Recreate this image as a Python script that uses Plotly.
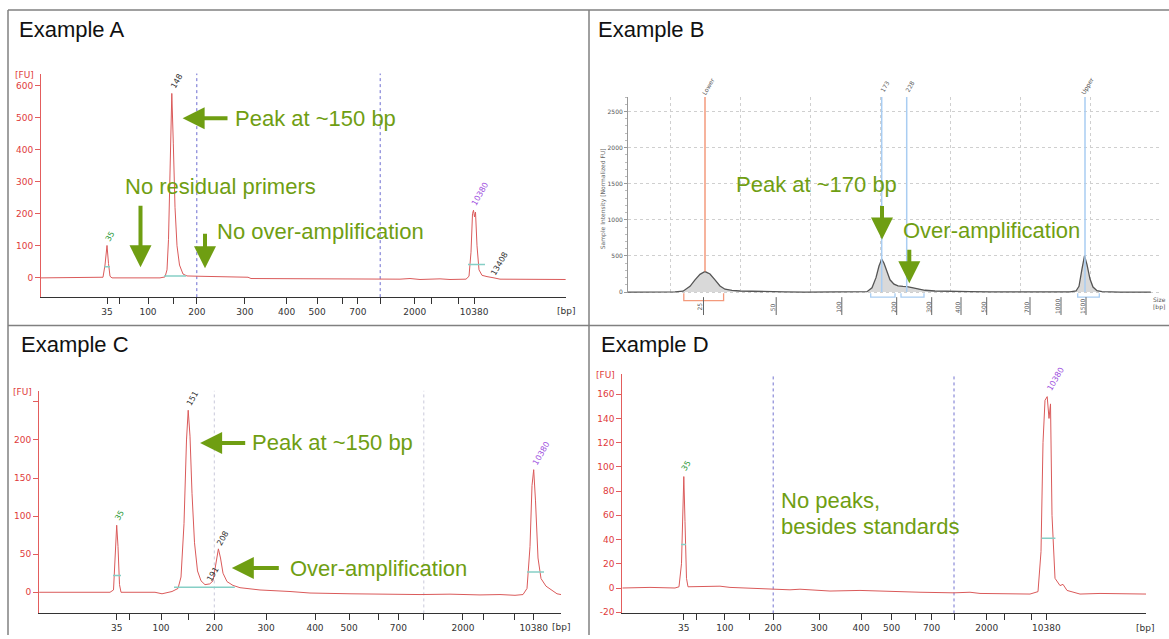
import plotly.graph_objects as go

W, H = 1169, 639
FONT = "Liberation Sans"
TFONT = "DejaVu Sans"
GREEN = "#6F9E12"
RED_AX = "#E35D5D"
RED_TXT = "#E03A3A"
RED_LINE = "#DA5A5A"
TEAL = "#86CFC6"

# ---------------- data (positions are migration-position units of each trace) -------------
# Example A
a_pos = [41, 100, 103, 105, 107, 108.5, 110, 112, 160, 165, 167, 168.5, 170, 171.8, 173.3, 175, 177,
         179.5, 183, 187, 200, 214, 216, 248, 251, 300, 380, 400, 410, 420, 440, 450, 466, 469, 471, 472.5, 473.5,
         474.5, 475.5, 477, 479, 482, 487, 491, 494, 500, 565.8]
a_fu = [0, 0, 2, 40, 101, 45, 5, 0, 0, 3, 25, 120, 350, 575, 420, 220, 100,
        40, 12, 6, 5, 4, 2, 2, -2, -3, -3, -4, -2, -5, -3, -5, -4, 5, 80, 200, 211,
        190, 205, 100, 25, 8, 4, 3, 0, -4, -5]
a_tick_pos = [107, 119.3, 148, 173.3, 196.8, 244.9, 286.6, 317.2, 342.2, 357.8, 380.2, 414.8, 431.6, 458.4, 474.1]
a_tick_lab = ["35", "", "100", "", "200", "300", "400", "500", "", "700", "", "2000", "", "", "10380"]
a_y_ticks = [0, 100, 200, 300, 400, 500, 600]
a_guides = [196.8, 380.2]
a_marks = [(104.4, 110, 35), (468, 485, 42), (164, 186, 6)]

# Example B
b_pos = [628, 660, 675, 683, 690, 695, 700, 705, 710, 715, 720, 725, 732, 740, 750, 765, 785, 805,
         862, 867, 872, 876, 879, 881.7, 884, 887, 890, 894, 898, 903, 907, 912, 918, 925, 935, 950,
         970, 990, 1010, 1060, 1070, 1076, 1079, 1082, 1084.5, 1087, 1090, 1093, 1097, 1102, 1110, 1120, 1150.8]
b_fu = [0, 0, 3, 12, 80, 170, 245, 284, 250, 170, 85, 40, 22, 15, 10, 5, 2, 0,
        0, 5, 60, 200, 360, 456, 400, 270, 170, 110, 85, 78, 76, 62, 42, 25, 15, 8,
        5, 3, 1, 0, 3, 15, 80, 320, 503, 380, 180, 70, 20, 6, 2, 0, 0]
b_y_ticks = [0, 500, 1000, 1500, 2000, 2500]
b_tick_pos = [703.5, 776.2, 841.8, 896.7, 931.7, 961, 986.7, 1030, 1061, 1086]
b_tick_lab = ["25", "50", "100", "200", "300", "400", "500", "700", "1000", "1500"]
b_mark_pos = [705, 881.7, 906.7, 1085]
b_mark_lab = ["Lower", "173", "228", "Upper"]
b_mark_base = [284, 0, 0, 0]
b_mark_col = ["#F39A7C", "#A9CDF2", "#A9CDF2", "#A9CDF2"]
b_ranges = [(683.8, 723.6, "#F39A7C"), (870.7, 895, "#A9CDF2"), (901, 924, "#A9CDF2"), (1077.7, 1099.3, "#A9CDF2")]

# Example C
c_pos = [39.1, 110, 113.5, 115, 116.7, 118, 119.5, 121, 155, 162, 172, 178, 181, 184, 186.5, 188.2, 190,
         192, 194.5, 197.5, 201, 205, 209.8, 213, 215.5, 218.4, 220.5, 223, 227, 233, 240, 260, 290,
         310, 350, 380, 420, 450, 480, 500, 515, 523, 527, 530, 532, 533.7, 535.5, 538, 541, 546, 552, 557, 561]
c_fu = [0, 0, 3, 40, 88, 60, 10, 0, 0, -2, 1, 5, 20, 90, 200, 239, 205,
        130, 65, 28, 15, 10, 11, 15, 35, 57, 45, 25, 14, 9, 6, 3, 1,
        -1, -2, -2.5, -3, -2.5, -3.5, -3, -4, -3, 5, 60, 140, 161, 120, 45, 18, 8, 2, -2, -3]
c_tick_pos = [116.7, 129.7, 161, 188.2, 214.3, 266.1, 315, 349.2, 378.3, 398.4, 423.8, 462.9, 483.8, 514.3, 533.7]
c_tick_lab = ["35", "", "100", "", "200", "300", "400", "500", "", "700", "", "2000", "", "", "10380"]
c_y_ticks = [0, 50, 100, 150, 200, 250]
c_y_lab = ["0", "50", "100", "150", "200", ""]
c_guides = [214.3, 423.8]
c_marks = [(113, 121, 22), (174, 234.8, 6.5), (527, 544, 26.5)]

# Example D
d_pos = [622.3, 650, 675, 679, 681.5, 682.8, 683.8, 685, 686.5, 688, 700, 720, 730, 750, 773, 790, 800, 830,
         860, 890, 920, 954, 970, 980, 1005, 1030,
         1038, 1041, 1043, 1045, 1047.2, 1049, 1050.5, 1052, 1055, 1060, 1063, 1067, 1080, 1100, 1146]
d_fu = [0, 0.5, 0, 1, 20, 70, 92, 55, 8, 1, 1, 1.5, 0.5, 0, -0.5, -1.5, -1, -2.5,
        -2, -3, -3.5, -4, -3.5, -4.5, -5, -5,
        -3, 30, 120, 155, 158, 140, 152, 60, 8, 2, 3, -2, -5, -4.5, -5]
d_tick_pos = [683.8, 696, 724.8, 749, 773.2, 819.1, 861.2, 891.7, 915.6, 931.6, 954, 986.8, 1004.3, 1031.1, 1046.4]
d_tick_lab = ["35", "", "100", "", "200", "300", "400", "500", "", "700", "", "2000", "", "", "10380"]
d_y_ticks = [-20, 0, 20, 40, 60, 80, 100, 120, 140, 160]
d_guides = [773.2, 954]
d_marks = [(681, 686, 36), (1041.6, 1055.4, 41)]

# ---------------- figure -------------
def dom_x(x0, x1):
    return [x0 / W, x1 / W]

def dom_y(y0, y1):
    return [1 - y1 / H, 1 - y0 / H]

fig = go.Figure()
fig.add_trace(go.Scatter(x=a_pos, y=a_fu, mode="lines", line=dict(color=RED_LINE, width=1), xaxis="x", yaxis="y", hoverinfo="skip"))
fig.add_trace(go.Scatter(x=b_pos, y=b_fu, mode="lines", line=dict(color="#555555", width=1.3), fill="tozeroy",
                         fillcolor="#D9D9D9", xaxis="x2", yaxis="y2", hoverinfo="skip"))
fig.add_trace(go.Scatter(x=c_pos, y=c_fu, mode="lines", line=dict(color=RED_LINE, width=1), xaxis="x3", yaxis="y3", hoverinfo="skip"))
fig.add_trace(go.Scatter(x=d_pos, y=d_fu, mode="lines", line=dict(color=RED_LINE, width=1), xaxis="x4", yaxis="y4", hoverinfo="skip"))

def bio_x(domain, rng, tv, tt, anchor):
    return dict(domain=domain, range=rng, tickvals=tv, ticktext=tt, showline=True, linecolor="#333",
                linewidth=1, ticks="outside", ticklen=6, tickcolor="#333",
                tickfont=dict(family=TFONT, size=9, color="#333"), showgrid=False, zeroline=False, anchor=anchor)

def bio_y(domain, rng, tv, tt, anchor):
    return dict(domain=domain, range=rng, tickvals=tv, ticktext=tt, showline=True, linecolor=RED_AX,
                linewidth=1, ticks="outside", ticklen=5, tickcolor=RED_AX,
                tickfont=dict(family=TFONT, size=9, color=RED_TXT), showgrid=False, zeroline=False, anchor=anchor)

layout = dict(
    width=W, height=H, margin=dict(l=0, r=0, t=0, b=0), paper_bgcolor="white", plot_bgcolor="rgba(0,0,0,0)",
    showlegend=False,
    xaxis=bio_x(dom_x(41, 565.8), [41, 565.8], a_tick_pos, a_tick_lab, "y"),
    yaxis=bio_y(dom_y(74, 299), [-60, 637], a_y_ticks, [str(v) for v in a_y_ticks], "x"),
    xaxis3=bio_x(dom_x(39.1, 561), [39.1, 561], c_tick_pos, c_tick_lab, "y3"),
    yaxis3=bio_y(dom_y(393.3, 617.3), [-27.8, 264.5], c_y_ticks, c_y_lab, "x3"),
    xaxis4=bio_x(dom_x(622.3, 1146), [622.3, 1146], d_tick_pos, d_tick_lab, "y4"),
    yaxis4=bio_y(dom_y(376.7, 617.3), [-21, 176.4], d_y_ticks, [str(v) for v in d_y_ticks], "x4"),
    xaxis2=dict(domain=dom_x(628, 1160.8), range=[628, 1160.8], tick0=670.7, dtick=70.02, showgrid=True,
                gridcolor="#CFCFCF", griddash="dot", gridwidth=1, ticks="", showticklabels=False,
                showline=False, zeroline=False, anchor="y2"),
    yaxis2=dict(domain=dom_y(97.7, 295), range=[-15, 2700], tickvals=b_y_ticks, showgrid=True,
                gridcolor="#CFCFCF", griddash="dot", showline=True, linecolor="#999", ticks="outside",
                ticklen=3, tickcolor="#999", tickfont=dict(family=TFONT, size=6, color="#555"),
                minor=dict(ticks="outside", ticklen=2, dtick=100, tickcolor="#BBB"),
                zeroline=False, anchor="x2"),
)
fig.update_layout(**layout)

shapes = []
# panel borders
for x0, y0, x1, y1 in [(8, 10, W, 10), (8, 10, 8, H), (589, 10, 589, H), (8, 327.5, W, 327.5)]:
    shapes.append(dict(type="line", xref="paper", yref="paper", x0=x0 / W, x1=x1 / W, y0=1 - y0 / H, y1=1 - y1 / H,
                       line=dict(color="#808080", width=1.5)))
# guide lines
for ax, guides, col in [("x", a_guides, "#6C6CD0"), ("x3", c_guides, "#C9C9DA"), ("x4", d_guides, "#7373D0")]:
    yr = ax.replace("x", "y") + " domain"
    for g in guides:
        shapes.append(dict(type="line", xref=ax, yref=yr, x0=g, x1=g, y0=0, y1=1, line=dict(color=col, width=1, dash="dot"),
                           layer="below"))
# half-height markers
for ax, marks in [("x", a_marks), ("x3", c_marks), ("x4", d_marks)]:
    yr = ax.replace("x", "y")
    for x0, x1, lv in marks:
        shapes.append(dict(type="line", xref=ax, yref=yr, x0=x0, x1=x1, y0=lv, y1=lv, line=dict(color=TEAL, width=1.5)))
# B marker lines
for p, base, col in zip(b_mark_pos, b_mark_base, b_mark_col):
    shapes.append(dict(type="line", xref="x2", yref="y2", x0=p, x1=p, y0=base, y1=2700, line=dict(color=col, width=1.5)))
# B brackets
for x0, x1, col in b_ranges:
    depth = 302.5 if col.startswith("#F3") else 299
    shapes.append(dict(type="path", xref="x2", yref="paper",
                       path=f"M {x0},{1 - 295 / H} L {x0},{1 - depth / H} L {x1},{1 - depth / H} L {x1},{1 - 295 / H}",
                       line=dict(color=col, width=1.3)))
# B long ticks
for p in b_tick_pos:
    shapes.append(dict(type="line", xref="x2", yref="paper", x0=p, x1=p, y0=1 - 299 / H, y1=1 - 317 / H,
                       line=dict(color="#666", width=1)))
fig.update_layout(shapes=shapes)

ann = []

def txt(x, y, text, size, color, xanchor="center", angle=0, family=FONT):
    ann.append(dict(x=x / W, y=1 - y / H, xref="paper", yref="paper", text=text, showarrow=False,
                    font=dict(family=family, size=size, color=color), xanchor=xanchor, yanchor="middle",
                    textangle=angle))

def arrow(hx, hy, tx, ty):
    ann.append(dict(x=hx / W, y=1 - hy / H, xref="paper", yref="paper", ax=tx - hx, ay=ty - hy, text="",
                    showarrow=True, arrowhead=2, arrowsize=1.1, arrowwidth=4, arrowcolor=GREEN))

# titles
txt(16.8, 30, "Example A", 22, "#111", "left")
txt(596, 30, "Example B", 22, "#111", "left")
txt(18.6, 346.7, "Example C", 22, "#111", "left")
txt(599, 346.7, "Example D", 22, "#111", "left")

# axis unit labels
txt(24, 75, "[FU]", 9, RED_TXT, family=TFONT)
txt(22.4, 394.3, "[FU]", 9, RED_TXT, family=TFONT)
txt(605, 377.7, "[FU]", 9, RED_TXT, family=TFONT)
txt(566, 313, "[bp]", 9, "#333", family=TFONT)
txt(561, 631, "[bp]", 9, "#333", family=TFONT)
txt(1144.8, 631.7, "[bp]", 9, "#333", family=TFONT)
txt(1159, 301.7, "Size", 6, "#555", family=TFONT)
txt(1159, 309, "[bp]", 6, "#555", family=TFONT)
txt(602.5, 200, "Sample Intensity [Normalized FU]", 6, "#666", angle=-90, family=TFONT)

# B tick labels
for p, lab in zip(b_tick_pos, b_tick_lab):
    ann.append(dict(x=p, y=1 - 309 / H, xref="x2", yref="paper", text=lab, showarrow=False, xshift=-4,
                    font=dict(family=TFONT, size=6, color="#555"), textangle=-90, xanchor="center", yanchor="middle"))
# B marker labels
for p, lab in zip(b_mark_pos, b_mark_lab):
    ann.append(dict(x=p, y=1 - 87 / H, xref="x2", yref="paper", text=lab, showarrow=False, xshift=3,
                    font=dict(family=TFONT, size=6, color="#555"), textangle=-60, xanchor="center", yanchor="middle"))

# peak labels
for x, y, t, c in [(110, 238, "35", "#2E9A3A"), (177, 82.5, "148", "#333"), (480, 196, "10380", "#A052E0"),
                   (499, 266, "13408", "#333"),
                   (119.3, 518.3, "35", "#2E9A3A"), (192.6, 401, "151", "#333"), (212.6, 577.7, "191", "#333"),
                   (222.6, 541.7, "208", "#333"), (541.5, 456.7, "10380", "#A052E0"),
                   (685.6, 469, "35", "#2E9A3A"), (1055.3, 381.7, "10380", "#A052E0")]:
    txt(x, y, t, 8, c, angle=-60, family=TFONT)

# green callouts
txt(315, 119, "Peak at ~150 bp", 22, GREEN)
arrow(182.6, 119, 229, 119)
txt(220, 188, "No residual primers", 22, GREEN)
arrow(140.5, 269, 140.5, 206)
txt(320, 233, "No over-amplification", 22, GREEN)
arrow(205, 270, 205, 234)

txt(816.7, 186, "Peak at ~170 bp", 22, GREEN)
arrow(882, 241, 882, 206)
txt(991.8, 231.7, "Over-amplification", 22, GREEN)
arrow(909.3, 285, 909.3, 250)

txt(332.7, 445.7, "Peak at ~150 bp", 22, GREEN)
arrow(200.1, 445.7, 246.7, 445.7)
txt(378.3, 571.7, "Over-amplification", 22, GREEN)
arrow(231.8, 571.7, 280.3, 571.7)

txt(778.8, 503.3, "No peaks,", 22, GREEN, "left")
txt(778.8, 530, "besides standards", 22, GREEN, "left")

fig.update_layout(annotations=ann)
fig.write_html("out.html", config={"displayModeBar": False},
               post_script="document.body.style.margin='0';document.body.style.overflow='hidden';")
